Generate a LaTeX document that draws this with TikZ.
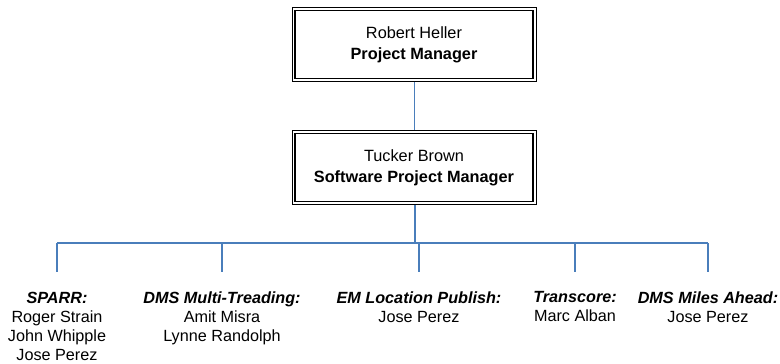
\documentclass[tikz,border=0pt]{standalone}
\usepackage{fontspec}
\setmainfont{Liberation Sans}
\begin{document}
\begin{tikzpicture}[x=1pt,y=-1pt,
  link/.style={draw=linkblue,line width=1.4pt},
  mgrbox/.style={draw=black,line width=0.9pt,minimum width=244pt,minimum height=74pt,
     inner sep=0pt,align=center,font=\fontsize{16.3}{21}\selectfont},
  innerframe/.style={draw=black,line width=1.8pt},
  team/.style={anchor=north,inner sep=0pt,align=center,font=\fontsize{16.2}{19}\selectfont}]
\definecolor{linkblue}{RGB}{74,126,187}
\useasboundingbox (0,0) rectangle (780,364);

% manager boxes with a double frame
\node[mgrbox] (pm) at (414,44.5) {Robert Heller\\\textbf{Project Manager}};
\draw[innerframe] ([xshift=3.4pt,yshift=-3.4pt]pm.north west) rectangle ([xshift=-3.4pt,yshift=3.4pt]pm.south east);
\node[mgrbox] (spm) at (414,167.5) {Tucker Brown\\\textbf{Software Project Manager}};
\draw[innerframe] ([xshift=3.4pt,yshift=-3.4pt]spm.north west) rectangle ([xshift=-3.4pt,yshift=3.4pt]spm.south east);

% bus line and branch ends
\coordinate (hub) at (415,243);
\coordinate (busL) at (57,243);
\coordinate (busR) at (708,243);
\coordinate (b1) at (57,272);
\coordinate (b2) at (222,272);
\coordinate (b3) at (419,272);
\coordinate (b4) at (575,272);
\coordinate (b5) at (708,272);

\draw[link] (pm.south -| 414.5,0) -- (spm.north -| 414.5,0);
\draw[link] (spm.south -| hub) -- (hub);
\draw[link] (busL) -- (busR);
\foreach \b in {b1,b2,b3,b4,b5}
  \draw[link] (\b |- hub) -- (\b);

% teams
\node[team] (t1) at (57,291.5) {\textbf{\textit{SPARR:}}\\Roger Strain\\John Whipple\\Jose Perez};
\node[team] (t2) at (222,291.5) {\textbf{\textit{DMS Multi-Treading:}}\\Amit Misra\\Lynne Randolph};
\node[team] (t3) at (419,291.5) {\textbf{\textit{EM Location Publish:}}\\Jose Perez};
\node[team] (t4) at (575,291.5) {\textbf{\textit{Transcore:}}\\Marc Alban};
\node[team] (t5) at (708,291.5) {\textbf{\textit{DMS Miles Ahead:}}\\Jose Perez};
\end{tikzpicture}
\end{document}
